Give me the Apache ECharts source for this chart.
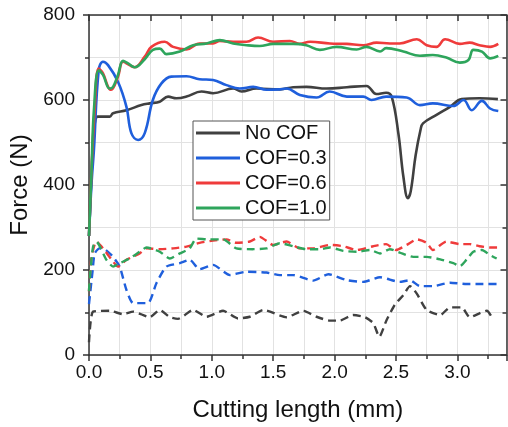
<!DOCTYPE html>
<html>
<head>
<meta charset="utf-8">
<script src="https://cdn.jsdelivr.net/npm/echarts@6/dist/echarts.min.js"></script>
<style>
html,body{margin:0;padding:0;background:#fff;}
#chart{width:508px;height:427px;}
</style>
</head>
<body>
<div id="chart"></div>
<script>
// Legend names
const seriesNames = ['No COF', 'COF=0.3', 'COF=0.6', 'COF=1.0'];

// Solid curves (upper group)
const noCofX = [0, 0.02, 0.04, 0.073, 0.169, 0.196, 0.305, 0.427, 0.495, 0.576, 0.644, 0.712, 0.794, 0.916, 1.01, 1.174, 1.242, 1.364, 1.553, 1.663, 1.77, 1.935, 2.1, 2.26, 2.34, 2.42, 2.465, 2.52, 2.56, 2.597, 2.62, 2.66, 2.7, 2.72, 2.83, 2.94, 3.035, 3.18, 3.33];
const noCofY = [280, 420, 520, 561, 561, 569, 576, 588, 592, 596, 608, 604, 608, 620, 616, 627, 620, 627, 625, 630, 631, 627, 630, 633, 614, 617, 608, 520, 420, 369, 385, 470, 530, 545, 565, 584, 602, 604, 602];

const cof03X = [0, 0.02, 0.04, 0.079, 0.114, 0.155, 0.236, 0.305, 0.345, 0.4, 0.454, 0.52, 0.59, 0.67, 0.794, 0.9, 1.01, 1.12, 1.228, 1.337, 1.446, 1.553, 1.61, 1.717, 1.853, 1.96, 2.1, 2.233, 2.3, 2.42, 2.587, 2.695, 2.8, 2.967, 3.05, 3.117, 3.2, 3.266, 3.333];
const cof03Y = [280, 400, 482, 670, 690, 682, 643, 584, 522, 506, 522, 600, 639, 655, 656, 649, 647, 635, 627, 631, 624, 625, 627, 612, 606, 620, 608, 608, 600, 608, 606, 588, 592, 586, 600, 576, 598, 580, 574];

const cof06X = [0, 0.02, 0.046, 0.079, 0.114, 0.155, 0.18, 0.236, 0.277, 0.33, 0.372, 0.454, 0.508, 0.617, 0.685, 0.794, 0.9, 1.01, 1.065, 1.174, 1.283, 1.377, 1.5, 1.636, 1.717, 1.8, 1.962, 2.1, 2.233, 2.342, 2.45, 2.53, 2.67, 2.75, 2.83, 2.9, 3.02, 3.1, 3.18, 3.266, 3.333];
const cof06Y = [280, 430, 576, 674, 663, 631, 624, 655, 690, 682, 677, 702, 725, 737, 725, 719, 733, 733, 739, 737, 737, 747, 737, 739, 732, 737, 733, 732, 729, 735, 733, 733, 743, 729, 725, 743, 732, 735, 729, 725, 732];

const cof10X = [0, 0.02, 0.04, 0.079, 0.114, 0.169, 0.196, 0.236, 0.277, 0.318, 0.372, 0.454, 0.52, 0.576, 0.63, 0.74, 0.848, 0.957, 1.065, 1.174, 1.283, 1.39, 1.5, 1.663, 1.77, 1.88, 2.016, 2.18, 2.26, 2.37, 2.42, 2.56, 2.695, 2.8, 2.91, 3.02, 3.09, 3.13, 3.2, 3.266, 3.333];
const cof10Y = [280, 430, 576, 670, 659, 627, 631, 659, 692, 686, 677, 696, 718, 721, 708, 714, 729, 733, 741, 733, 729, 727, 732, 732, 729, 718, 725, 719, 725, 714, 722, 714, 704, 706, 700, 688, 694, 718, 714, 698, 704];

// Dashed curves (lower group)
const noCofDX = [0, 0.033, 0.169, 0.278, 0.36, 0.495, 0.576, 0.658, 0.725, 0.848, 0.957, 1.092, 1.214, 1.31, 1.419, 1.609, 1.744, 1.853, 1.962, 2.043, 2.15, 2.247, 2.315, 2.364, 2.423, 2.49, 2.56, 2.614, 2.668, 2.75, 2.86, 2.94, 3.035, 3.1, 3.18, 3.24, 3.29];
const noCofDY = [30, 102, 104, 96, 102, 89, 106, 89, 85, 106, 90, 104, 86, 90, 106, 89, 104, 90, 81, 81, 94, 89, 75, 43, 82, 118, 141, 162, 145, 106, 94, 112, 112, 89, 98, 104, 84];

const cof03DX = [0, 0.03, 0.046, 0.087, 0.128, 0.196, 0.25, 0.305, 0.36, 0.48, 0.549, 0.63, 0.74, 0.82, 0.9, 1.01, 1.147, 1.283, 1.446, 1.554, 1.663, 1.826, 1.95, 2.1, 2.233, 2.37, 2.53, 2.614, 2.695, 2.8, 2.94, 3.076, 3.18, 3.333];
const cof03DY = [120, 200, 239, 251, 249, 231, 208, 153, 122, 122, 169, 208, 216, 224, 202, 212, 188, 196, 194, 188, 188, 175, 190, 176, 172, 183, 172, 176, 162, 162, 170, 167, 167, 167];

const cof06DX = [0, 0.02, 0.06, 0.114, 0.196, 0.236, 0.305, 0.413, 0.468, 0.576, 0.685, 0.794, 0.9, 1.01, 1.12, 1.2, 1.31, 1.39, 1.5, 1.609, 1.717, 1.826, 1.962, 2.07, 2.18, 2.315, 2.42, 2.5, 2.587, 2.67, 2.75, 2.8, 2.91, 3.02, 3.1, 3.18, 3.266, 3.333];
const cof06DY = [150, 230, 267, 251, 220, 208, 224, 239, 251, 249, 251, 255, 264, 269, 272, 264, 267, 278, 259, 267, 251, 251, 259, 256, 247, 256, 261, 247, 259, 272, 264, 247, 267, 261, 261, 256, 253, 253];

const cof10DX = [0, 0.005, 0.033, 0.06, 0.142, 0.196, 0.25, 0.33, 0.413, 0.468, 0.576, 0.658, 0.74, 0.82, 0.875, 0.983, 1.092, 1.2, 1.337, 1.446, 1.554, 1.663, 1.77, 1.88, 1.962, 2.07, 2.18, 2.29, 2.37, 2.45, 2.53, 2.64, 2.75, 2.86, 2.967, 3.02, 3.076, 3.13, 3.2, 3.266, 3.32];
const cof10DY = [150, 176, 255, 267, 224, 208, 216, 227, 243, 253, 243, 227, 239, 251, 274, 272, 272, 251, 249, 251, 263, 256, 249, 249, 253, 245, 243, 247, 239, 249, 241, 231, 231, 225, 216, 209, 225, 243, 247, 235, 227];

// Axis ranges
const xMin = 0, xMax = 3.4, xStep = 0.5;
const yMin = 0, yMax = 800, yStep = 200;

const colors = ['#404040', '#1f5fdc', '#ef3b3b', '#2ea55c'];

function zip(xs, ys) { return xs.map((x, i) => [x, ys[i]]); }

const solidData = [zip(noCofX, noCofY), zip(cof03X, cof03Y), zip(cof06X, cof06Y), zip(cof10X, cof10Y)];
const dashData = [zip(noCofDX, noCofDY), zip(cof03DX, cof03DY), zip(cof06DX, cof06DY), zip(cof10DX, cof10DY)];

const FONT = 'Liberation Sans, Arial, sans-serif';
const axisLineStyle = { color: '#333', width: 1.5 };
const gridLine = { lineStyle: { color: '#e2e2e2', width: 1 } };

const series = [];
for (let i = 0; i < 4; i++) {
  series.push({
    name: seriesNames[i], type: 'line', data: dashData[i], showSymbol: false, smooth: 0.2,
    lineStyle: { color: colors[i], width: 2.4, type: [8, 5] }, itemStyle: { color: colors[i] },
    z: 2 + i, silent: true
  });
}
for (let i = 0; i < 4; i++) {
  series.push({
    name: seriesNames[i], type: 'line', data: solidData[i], showSymbol: false, smooth: 0.4,
    lineStyle: { color: colors[i], width: 2.6 }, itemStyle: { color: colors[i] },
    z: 10 + i
  });
}

const chart = echarts.init(document.getElementById('chart'), null, { renderer: 'canvas' });
chart.setOption({
  animation: false,
  backgroundColor: '#fff',
  textStyle: { fontFamily: FONT },
  grid: { left: 89, right: 1.5, top: 15, bottom: 72, containLabel: false },
  legend: {
    data: seriesNames.map((n, i) => ({ name: n, icon: 'rect', itemStyle: { color: colors[i] } })),
    orient: 'vertical',
    left: 193, top: 121,
    itemWidth: 44, itemHeight: 3, itemGap: 5,
    padding: [2, 3, 2, 3],
    backgroundColor: '#fff',
    borderColor: '#555', borderWidth: 1,
    textStyle: { fontSize: 20, color: '#111', fontFamily: FONT },
    selectedMode: false
  },
  xAxis: [{
    type: 'value', min: xMin, max: xMax, interval: xStep, position: 'bottom',
    name: 'Cutting length (mm)', nameLocation: 'middle', nameGap: 43,
    nameTextStyle: { fontSize: 24, color: '#111', fontFamily: FONT },
    axisLine: { show: true, onZero: false, lineStyle: axisLineStyle },
    axisTick: { show: true, inside: false, length: 6, lineStyle: axisLineStyle },
    minorTick: { show: true, splitNumber: 2, length: 4, lineStyle: axisLineStyle },
    splitLine: { show: true, lineStyle: gridLine.lineStyle },
    minorSplitLine: { show: true, lineStyle: gridLine.lineStyle },
    axisLabel: { fontSize: 19, color: '#111', margin: 8, showMaxLabel: false, fontFamily: FONT, formatter: v => v.toFixed(1) }
  }, {
    type: 'value', min: xMin, max: xMax, interval: xStep, position: 'top',
    axisLine: { show: true, onZero: false, lineStyle: axisLineStyle },
    axisTick: { show: true, inside: true, length: 6, lineStyle: axisLineStyle },
    minorTick: { show: true, splitNumber: 2, length: 4, lineStyle: axisLineStyle },
    splitLine: { show: false }, axisLabel: { show: false }
  }],
  yAxis: [{
    type: 'value', min: yMin, max: yMax, interval: yStep, position: 'left',
    name: 'Force (N)', nameLocation: 'middle', nameGap: 50,
    nameTextStyle: { fontSize: 24, color: '#111', fontFamily: FONT },
    axisLine: { show: true, onZero: false, lineStyle: axisLineStyle },
    axisTick: { show: true, inside: false, length: 6, lineStyle: axisLineStyle },
    minorTick: { show: true, splitNumber: 2, length: 4, lineStyle: axisLineStyle },
    splitLine: { show: true, lineStyle: gridLine.lineStyle },
    minorSplitLine: { show: true, lineStyle: gridLine.lineStyle },
    axisLabel: { fontSize: 19, color: '#111', margin: 14, fontFamily: FONT }
  }, {
    type: 'value', min: yMin, max: yMax, interval: yStep, position: 'right',
    axisLine: { show: true, onZero: false, lineStyle: axisLineStyle },
    axisTick: { show: true, inside: true, length: 6, lineStyle: axisLineStyle },
    minorTick: { show: true, splitNumber: 2, length: 4, lineStyle: axisLineStyle },
    splitLine: { show: false }, axisLabel: { show: false }
  }],
  series: series
});
</script>
</body>
</html>
